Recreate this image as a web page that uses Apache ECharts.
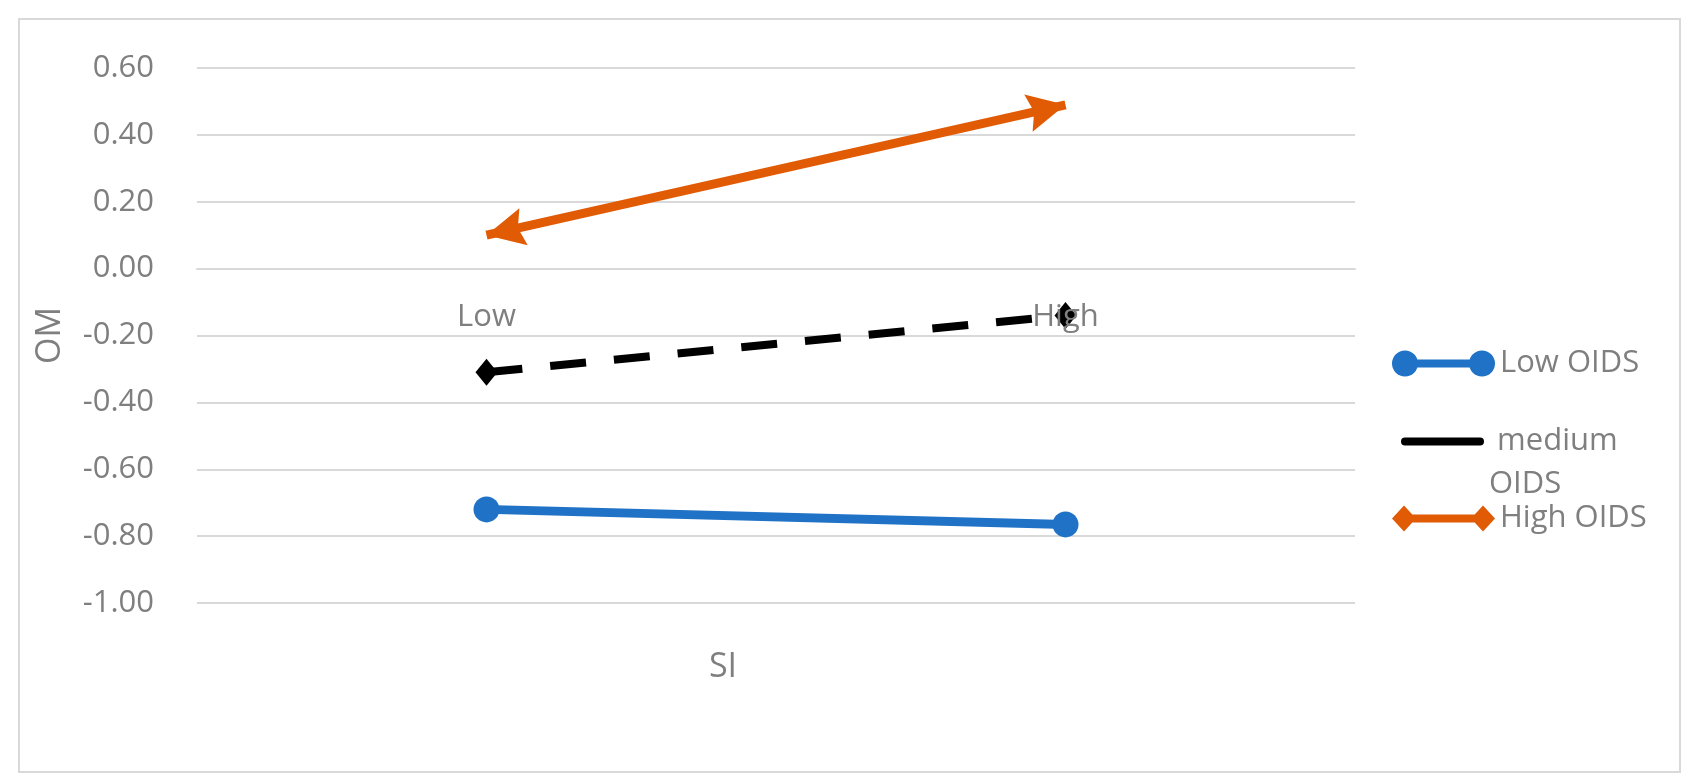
<!DOCTYPE html>
<html>
<head>
<meta charset="utf-8">
<title>OM by SI</title>
<style>
  html, body { margin: 0; padding: 0; background: #fff; }
  #chart { width: 1697px; height: 784px; }
</style>
</head>
<body>
<div id="chart"></div>
<script src="https://cdn.jsdelivr.net/npm/echarts@6/dist/echarts.min.js"></script>
<script>
// data
var categories = ['Low', 'High']
var lowOids = [-0.72, -0.765]
var mediumOids = [-0.31, -0.14]
var highOids = [0.10, 0.49]
var seriesNames = ['Low OIDS', 'medium OIDS', 'High OIDS']

// y axis ticks
var yMin = -1
var yMax = 0.6
var yStep = 0.2

var grey = '#7f7f7f'
var font = 'Open Sans'
var blue = '#1f72c6'
var orange = '#e15b04'

// arrow head pointing up, tip at the top
var arrowPath = 'path://M0,0L12.5,26L0,22L-12.5,26Z'
var arrowSize = [38, 38]

// legend icons: line with a marker at each end
var iconCircles = 'path://M0,13a13,13 0 1,1 26,0a13,13 0 1,1 -26,0Z M77,13a13,13 0 1,1 26,0a13,13 0 1,1 -26,0Z M13,9H90V17H13Z'
var iconDiamonds = 'path://M0,13L12,0L24,13L12,26Z M79,13L91,0L103,13L91,26Z M12,9H91V17H12Z'
var iconLine = 'path://M4,0H79A4,4 0 0,1 79,8H4A4,4 0 0,1 4,0Z'

var chart = echarts.init(document.getElementById('chart'))

function legendText() {
  return { color: grey, fontSize: 31, fontFamily: font }
}

var option = {
  animation: false,
  backgroundColor: '#fff',
  grid: { left: 197, right: 342, top: 68, bottom: 181 },
  graphic: [
    {
      type: 'rect', silent: true,
      shape: { x: 19, y: 19, width: 1661, height: 753 },
      style: { fill: 'none', stroke: '#d9d9d9', lineWidth: 2 }
    },
    {
      type: 'text', silent: true, x: 723, y: 667,
      style: { text: 'SI', fill: grey, fontSize: 34, fontFamily: font, align: 'center', verticalAlign: 'middle' }
    }
  ],
  legend: [
    {
      data: [seriesNames[0]], icon: iconCircles, selectedMode: false,
      left: 1392, top: 348, padding: 0, itemWidth: 103, itemHeight: 26,
      itemStyle: { borderWidth: 0 }, textStyle: legendText()
    },
    {
      data: [seriesNames[1]], icon: iconLine, selectedMode: false,
      left: 1401, top: 377, padding: 0, itemWidth: 83, itemHeight: 8,
      itemStyle: { borderWidth: 0 },
      formatter: function () { return '\n medium\nOIDS' },
      textStyle: { color: grey, fontSize: 31, fontFamily: font, lineHeight: 43 }
    },
    {
      data: [seriesNames[2]], icon: iconDiamonds, selectedMode: false,
      left: 1392, top: 503, padding: 0, itemWidth: 103, itemHeight: 26,
      itemStyle: { borderWidth: 0 }, textStyle: legendText()
    }
  ],
  xAxis: {
    type: 'category',
    data: categories,
    boundaryGap: true,
    z: 10,
    axisLine: { onZero: false, lineStyle: { color: '#d9d9d9', width: 2 } },
    axisTick: { show: false },
    axisLabel: { color: grey, fontSize: 31, fontFamily: font, margin: 33 },
    splitLine: { show: false }
  },
  yAxis: {
    type: 'value',
    min: yMin,
    max: yMax,
    interval: yStep,
    name: 'OM',
    nameLocation: 'middle',
    nameRotate: 90,
    nameGap: 130,
    nameTextStyle: { color: grey, fontSize: 34, fontFamily: font },
    axisLine: { show: false },
    axisTick: { show: false },
    axisLabel: {
      color: grey, fontSize: 31, fontFamily: font, margin: 43,
      formatter: function (v) { return v.toFixed(2) }
    },
    splitLine: { lineStyle: { color: '#d9d9d9', width: 2 } }
  },
  series: [
    {
      name: seriesNames[0], type: 'line', data: lowOids,
      symbol: 'circle', symbolSize: 26,
      lineStyle: { width: 9, color: blue }, itemStyle: { color: blue }
    },
    {
      name: seriesNames[1], type: 'line', data: mediumOids,
      symbol: 'diamond', symbolSize: [22, 27],
      lineStyle: { width: 8, color: '#000', type: [36, 28] }, itemStyle: { color: '#000' }
    },
    {
      name: seriesNames[2], type: 'line', data: highOids,
      symbol: arrowPath, symbolSize: arrowSize,
      lineStyle: { width: 9, color: orange }, itemStyle: { color: orange }
    }
  ]
}
chart.setOption(option)

// category labels sit just under the zero line
var yZero = chart.convertToPixel({ yAxisIndex: 0 }, 0)
var yBottom = chart.convertToPixel({ yAxisIndex: 0 }, yMin)

// turn the arrow heads along the line, tips on the data points
var p0 = chart.convertToPixel({ seriesIndex: 2 }, [0, highOids[0]])
var p1 = chart.convertToPixel({ seriesIndex: 2 }, [1, highOids[1]])
var dx = p1[0] - p0[0]
var dy = p1[1] - p0[1]
var len = Math.sqrt(dx * dx + dy * dy)
var ux = dx / len
var uy = dy / len
var ang = Math.atan2(-dy, dx) * 180 / Math.PI
var half = arrowSize[1] / 2

chart.setOption({
  xAxis: { offset: yZero - yBottom },
  series: [{}, {}, {
    data: [
      { value: highOids[0], symbolRotate: ang + 90, symbolOffset: [ux * half, uy * half] },
      { value: highOids[1], symbolRotate: ang - 90, symbolOffset: [-ux * half, -uy * half] }
    ]
  }]
})
</script>
</body>
</html>
